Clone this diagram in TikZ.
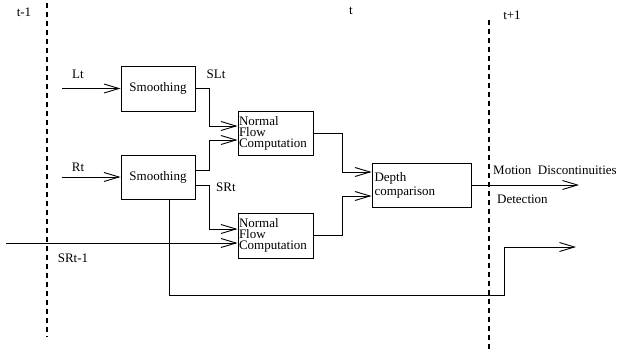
\documentclass[tikz,border=0pt]{standalone}
\usepackage{fontspec}
\setmainfont{Liberation Serif}
\usetikzlibrary{arrows.meta}
\begin{document}
\begin{tikzpicture}[x=1pt,y=-1pt,
  every node/.style={font=\fontsize{13}{11}\selectfont},
  lbl/.style={inner sep=0pt},
  box/.style={draw,line width=0.9pt,inner sep=0pt},
  arr/.style={line width=0.9pt,-{Straight Barb[length=15pt,width=9pt,line width=0.9pt]}},
  wire/.style={line width=0.9pt},
  timeline/.style={line width=1.2pt,dash pattern=on 5pt off 4pt}]
\useasboundingbox (0,0) rectangle (619,351);
% time separators
\draw[timeline] (47,3) -- (47,337);
\draw[timeline] (489,20) -- (489,351);
\node[lbl] (tm1) at (24,12) {t-1};
\node[lbl] (t0) at (351,11) {t};
\node[lbl] (tp1) at (512,15) {t+1};
% boxes
\node[box,minimum width=74pt,minimum height=45pt] (s1) at (158,88.5) {Smoothing};
\node[box,minimum width=74pt,minimum height=44pt] (s2) at (158,177) {Smoothing};
\node[box,minimum width=75pt,minimum height=44pt,text width=73pt,align=left,inner xsep=1pt] (n1) at (275.5,133) {Normal\\Flow\\Computation};
\node[box,minimum width=75pt,minimum height=45pt,text width=73pt,align=left,inner xsep=1pt] (n2) at (275.5,235.5) {Normal\\Flow\\Computation};
\node[box,minimum width=99pt,minimum height=44pt,text width=94pt,align=left,inner xsep=0pt,font=\fontsize{13}{14}\selectfont,xshift=2.5pt] (dc) at (419,185) {Depth\\comparison};
% labels
\node[lbl] (llt) at (78,74) {Lt};
\node[lbl] (lrt) at (78,167) {Rt};
\node[lbl] (lslt) at (216,74) {SLt};
\node[lbl] (lsrt) at (226,187) {SRt};
\node[lbl] (lsrt1) at (73,258) {SRt-1};
\node[lbl,anchor=west] (lmd) at (493,170) {Motion~~Discontinuities};
\node[lbl,anchor=west] (ldet) at (497,199) {Detection};
% inputs
\coordinate (inl) at (62,88.5);
\coordinate (inr) at (62,177);
\coordinate (inp) at (6,243);
\draw[arr] (inl) -- (s1.west);
\draw[arr] (inr) -- (s2.west);
\draw[arr] (inp) -- (n2.west |- 0,243);
% smoothing outputs
\draw[arr] (s1.east) -| (209,126) -- (n1.west |- 0,126);
\draw[arr] (s2.east |- 0,170) -| (209,140) -- (n1.west |- 0,140);
\draw[arr] (s2.east |- 0,185) -| (209,229) -- (n2.west |- 0,229);
% normal flow to depth
\draw[arr] (n1.east) -| (342,172) -- (dc.west |- 0,172);
\draw[arr] (n2.east) -| (342,196) -- (dc.west |- 0,196);
% outputs
\coordinate (outd) at (579,185);
\coordinate (outs) at (576,247);
\draw[arr] (dc.east) -- (outd);
\draw[arr] (s2.south -| 169,0) |- (504,295) |- (outs);
\end{tikzpicture}
\end{document}
